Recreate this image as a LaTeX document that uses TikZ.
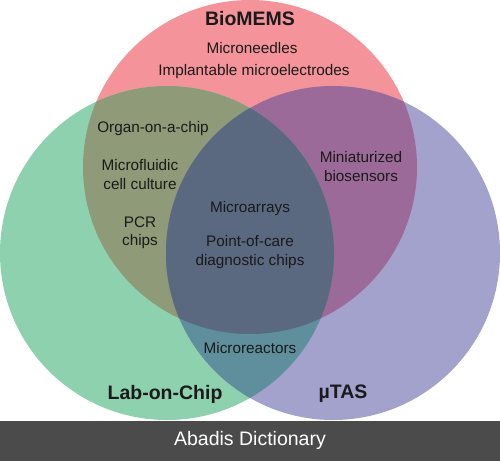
\documentclass[tikz,border=0pt]{standalone}
\usepackage{fontspec}
\setmainfont{Liberation Sans}
\definecolor{cR}{HTML}{F4949A}
\definecolor{cG}{HTML}{8ED1AE}
\definecolor{cB}{HTML}{A2A2CC}
\definecolor{cRG}{HTML}{8E9A78}
\definecolor{cRB}{HTML}{9C6A98}
\definecolor{cGB}{HTML}{5F8E9C}
\definecolor{cRGB}{HTML}{5A6880}
\definecolor{txt}{HTML}{1A1A1A}
\definecolor{bar}{HTML}{4B4B4B}
\begin{document}
\begin{tikzpicture}[x=1pt,y=-1pt,
  lbl/.style={text=txt,font=\fontsize{15.3}{18.5}\selectfont,align=center,inner sep=0pt},
  ttl/.style={text=txt,font=\fontsize{19.5}{22}\selectfont\bfseries,inner sep=0pt}]
\useasboundingbox (0,0) rectangle (500,461);
\fill[white] (0,0) rectangle (500,461);
\def\cR{(250,167) circle[radius=167]}
\def\cG{(167,253) circle[radius=167]}
\def\cB{(333,253) circle[radius=167]}
\fill[cR] \cR;
\fill[cG] \cG;
\fill[cB] \cB;
\begin{scope}\clip \cR; \fill[cRG] \cG; \end{scope}
\begin{scope}\clip \cR; \fill[cRB] \cB; \end{scope}
\begin{scope}\clip \cG; \fill[cGB] \cB; \end{scope}
\begin{scope}\clip \cR; \clip \cG; \fill[cRGB] \cB; \end{scope}
\fill[bar] (0,421) rectangle (500,461);
\node[ttl] (bio) at (250,19) {BioMEMS};
\node[ttl] (loc) at (165,394) {Lab-on-Chip};
\node[ttl] (tas) at (343,394) {µTAS};
\node[lbl] (mn) at (252,48) {Microneedles};
\node[lbl] (im) at (254,72) {Implantable microelectrodes};
\node[lbl] (oc) at (153,129) {Organ-on-a-chip};
\node[lbl] (mc) at (140,174.5) {Microfluidic\\cell culture};
\node[lbl] (pcr) at (140,232.5) {PCR\\chips};
\node[lbl] (ma) at (250,209) {Microarrays};
\node[lbl] (poc) at (250,252) {Point-of-care\\diagnostic chips};
\node[lbl] (mb) at (361,166.5) {Miniaturized\\biosensors};
\node[lbl] (mr) at (250,348) {Microreactors};
\node[text=white,font=\fontsize{19.5}{22}\selectfont,inner sep=0pt] (ft) at (250,440) {Abadis Dictionary};
\end{tikzpicture}
\end{document}
